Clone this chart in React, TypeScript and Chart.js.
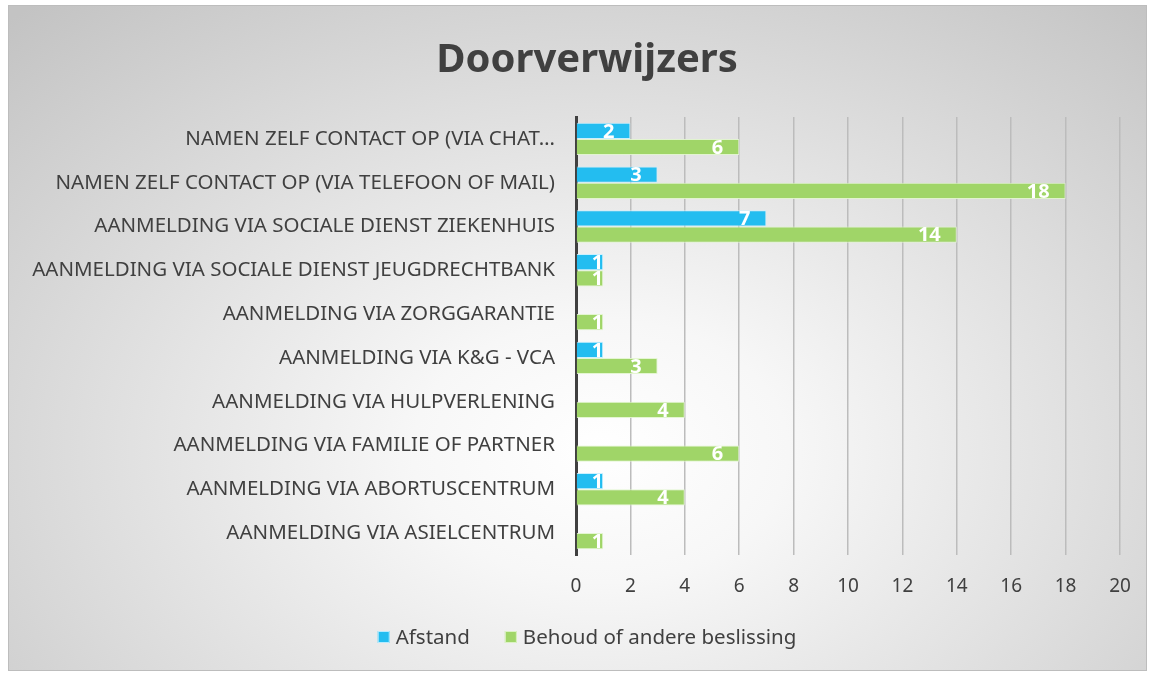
import React, { useEffect, useRef } from "react";
import { Chart, registerables } from "chart.js";

Chart.register(...registerables);

const categories = [
  "NAMEN ZELF CONTACT OP (VIA CHAT…",
  "NAMEN ZELF CONTACT OP (VIA TELEFOON OF MAIL)",
  "AANMELDING VIA SOCIALE DIENST ZIEKENHUIS",
  "AANMELDING VIA SOCIALE DIENST JEUGDRECHTBANK",
  "AANMELDING VIA ZORGGARANTIE",
  "AANMELDING VIA K&G - VCA",
  "AANMELDING VIA HULPVERLENING",
  "AANMELDING VIA FAMILIE OF PARTNER",
  "AANMELDING VIA ABORTUSCENTRUM",
  "AANMELDING VIA ASIELCENTRUM",
];

const afstand: (number | null)[] = [2, 3, 7, 1, null, 1, null, null, 1, null];
const behoud: (number | null)[] = [6, 18, 14, 1, 1, 3, 4, 6, 4, 1];

const seriesNames = ["Afstand", "Behoud of andere beslissing"];
const seriesColors = ["#23BDF0", "#A0D568"];
const seriesEdges = ["rgba(200,240,255,0.9)", "rgba(225,245,205,0.9)"];
const titleText = "Doorverwijzers";
const xMin = 0;
const xMax = 20;
const xStep = 2;

const FONT = '"Noto Sans", "Open Sans", sans-serif';
const TEXT = "#404040";

const barLabels = {
  id: "barLabels",
  afterDatasetsDraw(chart: any) {
    const ctx = chart.ctx;
    ctx.save();
    ctx.font = `bold 20px ${FONT}`;
    ctx.fillStyle = "#ffffff";
    ctx.textAlign = "right";
    ctx.textBaseline = "middle";
    chart.data.datasets.forEach((ds: any, i: number) => {
      const meta = chart.getDatasetMeta(i);
      meta.data.forEach((el: any, j: number) => {
        const v = ds.data[j];
        if (v == null) return;
        const t = String(v);
        const w = ctx.measureText(t).width;
        const end = el.x;
        const start = el.base;
        const right = Math.min(end, Math.max(end - 16, start + w + 16));
        ctx.fillText(t, right, el.y + 1);
      });
    });
    ctx.restore();
  },
};

// Legend drawn below the x axis, centred under the title
const bottomLegend = {
  id: "bottomLegend",
  afterDraw(chart: any) {
    const ctx = chart.ctx;
    const tb = chart.titleBlock;
    const cx = tb ? (tb.left + tb.right) / 2 : chart.width / 2;
    const y = chart.chartArea.bottom + 82;
    const box = 12;
    const gapText = 6;
    const gapItem = 35;
    ctx.save();
    ctx.font = `20.5px ${FONT}`;
    const items = chart.data.datasets.map((ds: any, i: number) => ({
      text: ds.label,
      color: seriesColors[i],
      edge: seriesEdges[i],
      w: box + gapText + ctx.measureText(ds.label).width,
    }));
    const total = items.reduce((s: number, it: any) => s + it.w, 0) + gapItem * (items.length - 1);
    let x = cx - total / 2;
    ctx.textBaseline = "middle";
    ctx.textAlign = "left";
    items.forEach((it: any) => {
      ctx.fillStyle = it.color;
      ctx.fillRect(x, y - box / 2, box, box);
      ctx.strokeStyle = it.edge;
      ctx.lineWidth = 1;
      ctx.strokeRect(x + 0.5, y - box / 2 + 0.5, box - 1, box - 1);
      ctx.fillStyle = TEXT;
      ctx.fillText(it.text, x + box + gapText, y + 1);
      x += it.w + gapItem;
    });
    ctx.restore();
  },
};

export default function App() {
  const ref = useRef<HTMLCanvasElement | null>(null);

  useEffect(() => {
    document.body.style.margin = "0";
    const canvas = ref.current;
    if (!canvas) return;
    const chart = new Chart(canvas, {
      type: "bar",
      data: {
        labels: categories,
        datasets: [
          {
            label: seriesNames[0],
            data: afstand,
            backgroundColor: seriesColors[0],
            borderColor: seriesEdges[0],
            borderWidth: 1,
            categoryPercentage: 0.74,
            barPercentage: 1,
          },
          {
            label: seriesNames[1],
            data: behoud,
            backgroundColor: seriesColors[1],
            borderColor: seriesEdges[1],
            borderWidth: 1,
            categoryPercentage: 0.74,
            barPercentage: 1,
          },
        ],
      },
      options: {
        indexAxis: "y",
        animation: false,
        responsive: false,
        maintainAspectRatio: false,
        layout: { padding: { left: 54, right: 34, top: 20, bottom: 59 } },
        plugins: {
          title: {
            display: true,
            text: titleText,
            color: TEXT,
            font: { family: FONT, size: 40, weight: "bold" },
            padding: { top: 17, bottom: 32 },
          },
          legend: { display: false },
          tooltip: { enabled: false },
        },
        scales: {
          x: {
            type: "linear",
            min: xMin,
            max: xMax,
            ticks: {
              stepSize: xStep,
              color: TEXT,
              font: { family: FONT, size: 19 },
              padding: 20,
            },
            grid: { color: "#bcbcbc", lineWidth: 1.5, drawTicks: false },
            border: { display: false },
            afterFit: (scale: any) => {
              scale.height = 60;
            },
          },
          y: {
            ticks: {
              color: TEXT,
              font: { family: FONT, size: 20.5 },
              padding: 13,
              autoSkip: false,
            },
            grid: { display: false },
            border: { display: true, color: "#404040", width: 3 },
            afterFit: (scale: any) => {
              scale.width = 522;
              scale._computeLabelArea = () => undefined;
            },
          },
        },
      },
      plugins: [barLabels, bottomLegend],
    });
    return () => chart.destroy();
  }, []);

  return (
    <div style={{ position: "absolute", left: 0, top: 0, width: 1154, height: 674, background: "#ffffff" }}>
      <div
        style={{
          position: "absolute",
          left: 8,
          top: 5,
          width: 1137,
          height: 664,
          border: "1px solid #bdbdbd",
          background:
            "radial-gradient(ellipse 75% 90% at 52% 67%, #ffffff 0%, #f7f7f7 22%, #c3c3c3 100%)",
        }}
      />
      <canvas ref={ref} width={1154} height={674} style={{ position: "absolute", left: 0, top: 0 }} />
    </div>
  );
}
